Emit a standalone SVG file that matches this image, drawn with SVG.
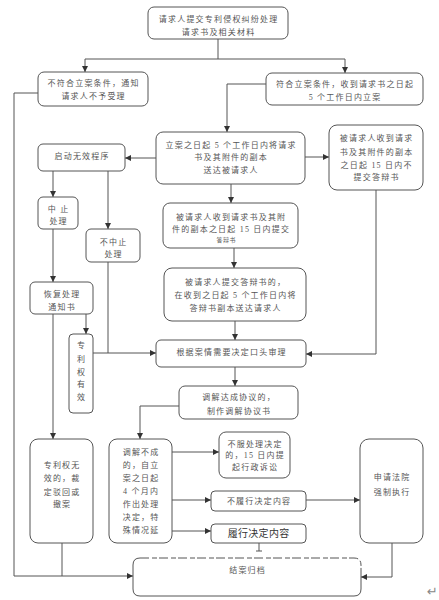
<svg xmlns="http://www.w3.org/2000/svg" width="439" height="600" viewBox="0 0 439 600">
<defs>
<marker id="ah" markerUnits="userSpaceOnUse" markerWidth="6" markerHeight="6" refX="6" refY="3" orient="auto">
<path d="M0,0 L6,3 L0,6 z" fill="#333"/>
</marker>
<style>
.b{fill:#fff;stroke:#555;stroke-width:1}
.t{font-family:"Liberation Serif","Noto Sans CJK SC",serif;font-size:8px;letter-spacing:1.2px;fill:#555;text-anchor:middle}
.s{font-size:6px;letter-spacing:0.6px}
.c{fill:none;stroke:#555;stroke-width:1}
.a{marker-end:url(#ah)}
.h{font-family:"Noto Sans CJK SC","Liberation Sans",sans-serif;font-size:10px;letter-spacing:0.3px;fill:#333;text-anchor:middle}
</style>
</defs>
<rect width="439" height="600" fill="#fff"/>
<g id="connectors">
<path class="c" d="M218,39 V59 M85,59 H345"/>
<path class="c a" d="M85,59 V72"/>
<path class="c a" d="M345,59 V73"/>
<path class="c a" d="M38,93 H14 V576 H133"/>
<path class="c a" d="M266,84 H227 V132"/>
<path class="c a" d="M156,158 H125"/>
<path class="c a" d="M305,157 H329"/>
<path class="c a" d="M231,184 V203"/>
<path class="c a" d="M234,248 V268"/>
<path class="c a" d="M235,321 V340"/>
<path class="c a" d="M235,367 V386"/>
<path class="c a" d="M376,190 V354 H306"/>
<path class="c a" d="M53,171 V197"/>
<path class="c a" d="M108,171 V229"/>
<path class="c" d="M108,262 V353"/>
<path class="c a" d="M53,229 V282"/>
<path class="c a" d="M86,314 V334"/>
<path class="c a" d="M93,353 H156"/>
<path class="c a" d="M53,314 V439"/>
<path class="c a" d="M179,406 H140 V439"/>
<path class="c a" d="M172,452 H219"/>
<path class="c a" d="M172,500 H211"/>
<path class="c a" d="M306,500 H360"/>
<path class="c a" d="M172,531 H211"/>
<path class="c" d="M259,543 V551 M256,551 H262"/>
<path class="c a" d="M392,543 V577 H361"/>
<path class="c" d="M62,543 V576"/>
</g>
<g id="n-submit">
<rect class="b" x="148" y="7" width="140" height="32" rx="6"/>
<text class="t" x="218.6" y="22">请求人提交专利侵权纠纷处理</text>
<text class="t" x="218.6" y="35">请求书及相关材料</text>
</g>
<g id="n-reject">
<rect class="b" x="38" y="72" width="110" height="34" rx="6"/>
<text class="t" x="93.6" y="86">不符合立案条件，通知</text>
<text class="t" x="93.6" y="99">请求人不予受理</text>
</g>
<g id="n-accept">
<rect class="b" x="266" y="73" width="157" height="32" rx="6"/>
<text class="t" x="345.1" y="87">符合立案条件，收到请求书之日起</text>
<text class="t" x="345.1" y="100">5 个工作日内立案</text>
</g>
<g id="n-serve">
<rect class="b" x="156" y="132" width="149" height="52" rx="7"/>
<text class="t" x="231.1" y="148">立案之日起 5 个工作日内将请求</text>
<text class="t" x="231.1" y="160">书及其附件的副本</text>
<text class="t" x="231.1" y="173">送达被请求人</text>
</g>
<g id="n-noreply">
<rect class="b" x="329" y="125" width="94" height="65" rx="8"/>
<text class="t" x="376.6" y="141">被请求人收到请求</text>
<text class="t" x="376.6" y="155">书及其附件的副本</text>
<text class="t" x="376.6" y="168">之日起 15 日内不</text>
<text class="t" x="376.6" y="180">提交答辩书</text>
</g>
<g id="n-invalid">
<rect class="b" x="38" y="144" width="87" height="27" rx="5"/>
<text class="t" x="82.1" y="159">启动无效程序</text>
</g>
<g id="n-reply">
<rect class="b" x="163" y="203" width="135" height="45" rx="7"/>
<text class="t" x="231.1" y="220">被请求人收到请求书及其附</text>
<text class="t" x="231.1" y="232">件的副本之日起 15 日内提交</text>
<text class="t s" x="226.3" y="242">答辩书</text>
</g>
<g id="n-suspend">
<rect class="b" x="38" y="197" width="40" height="32" rx="5"/>
<text class="t" x="58.6" y="212">中 止</text>
<text class="t" x="58.6" y="224">处理</text>
</g>
<g id="n-nosuspend">
<rect class="b" x="86" y="229" width="54" height="33" rx="5"/>
<text class="t" x="113.6" y="245">不中止</text>
<text class="t" x="113.6" y="257">处理</text>
</g>
<g id="n-forward">
<rect class="b" x="164" y="268" width="142" height="53" rx="8"/>
<text class="t" x="235.6" y="285">被请求人提交答辩书的，</text>
<text class="t" x="235.6" y="298">在收到之日起 5 个工作日内将</text>
<text class="t" x="235.6" y="311">答辩书副本送达请求人</text>
</g>
<g id="n-resume">
<rect class="b" x="30" y="282" width="63" height="32" rx="5"/>
<text class="t" x="62.1" y="297">恢复处理</text>
<text class="t" x="62.1" y="310">通知书</text>
</g>
<g id="n-valid">
<rect class="b" x="69" y="334" width="24" height="79" rx="4"/>
<text class="t" x="81.6" y="348">专</text>
<text class="t" x="81.6" y="362">利</text>
<text class="t" x="81.6" y="375">权</text>
<text class="t" x="81.6" y="387">有</text>
<text class="t" x="81.6" y="400">效</text>
</g>
<g id="n-hearing">
<rect class="b" x="156" y="340" width="150" height="27" rx="5"/>
<text class="t" x="231.6" y="355">根据案情需要决定口头审理</text>
</g>
<g id="n-mediate">
<rect class="b" x="179" y="386" width="119" height="33" rx="6"/>
<text class="t" x="239.1" y="400">调解达成协议的，</text>
<text class="t" x="239.1" y="414">制作调解协议书</text>
</g>
<g id="n-invalidated">
<rect class="b" x="30" y="439" width="63" height="104" rx="8"/>
<text class="t" x="62.1" y="468">专利权无</text>
<text class="t" x="62.1" y="481">效的，裁</text>
<text class="t" x="62.1" y="495">定驳回或</text>
<text class="t" x="62.1" y="507">撤案</text>
</g>
<g id="n-decision">
<rect class="b" x="109" y="439" width="63" height="104" rx="8"/>
<text class="t" x="141.1" y="455">调解不成</text>
<text class="t" x="141.1" y="468">的，自立</text>
<text class="t" x="141.1" y="481">案之日起</text>
<text class="t" x="141.1" y="494">4 个月内</text>
<text class="t" x="141.1" y="507">作出处理</text>
<text class="t" x="141.1" y="520">决定，特</text>
<text class="t" x="141.1" y="533">殊情况延</text>
</g>
<g id="n-appeal">
<rect class="b" x="219" y="432" width="71" height="46" rx="7"/>
<text class="t" x="255.1" y="447">不服处理决定</text>
<text class="t" x="255.1" y="458">的，15 日内提</text>
<text class="t" x="255.1" y="470">起行政诉讼</text>
</g>
<g id="n-notperform">
<rect class="b" x="211" y="491" width="95" height="20" rx="4"/>
<text class="t" x="259.1" y="504">不履行决定内容</text>
</g>
<g id="n-perform">
<rect class="b" x="211" y="524" width="95" height="19" rx="4"/>
<text class="h" x="258.6" y="537">履行决定内容</text>
</g>
<g id="n-enforce">
<rect class="b" x="360" y="439" width="63" height="104" rx="9"/>
<text class="t" x="392.1" y="480">申请法院</text>
<text class="t" x="392.1" y="495">强制执行</text>
</g>
<g id="n-close">
<path class="c" d="M361,575 V589 Q361,596 354,596 H140 Q133,596 133,589 V565 Q133,558 140,558"/>
<path class="c" stroke-dasharray="9,3,5,2" d="M140,558 H354 Q361,558 361,565 V575" stroke="#888"/>
<text class="t" x="247.6" y="573">结案归档</text>
</g>
<text x="427" y="596" font-family="DejaVu Sans,sans-serif" font-size="13" fill="#888">↵</text>
</svg>
